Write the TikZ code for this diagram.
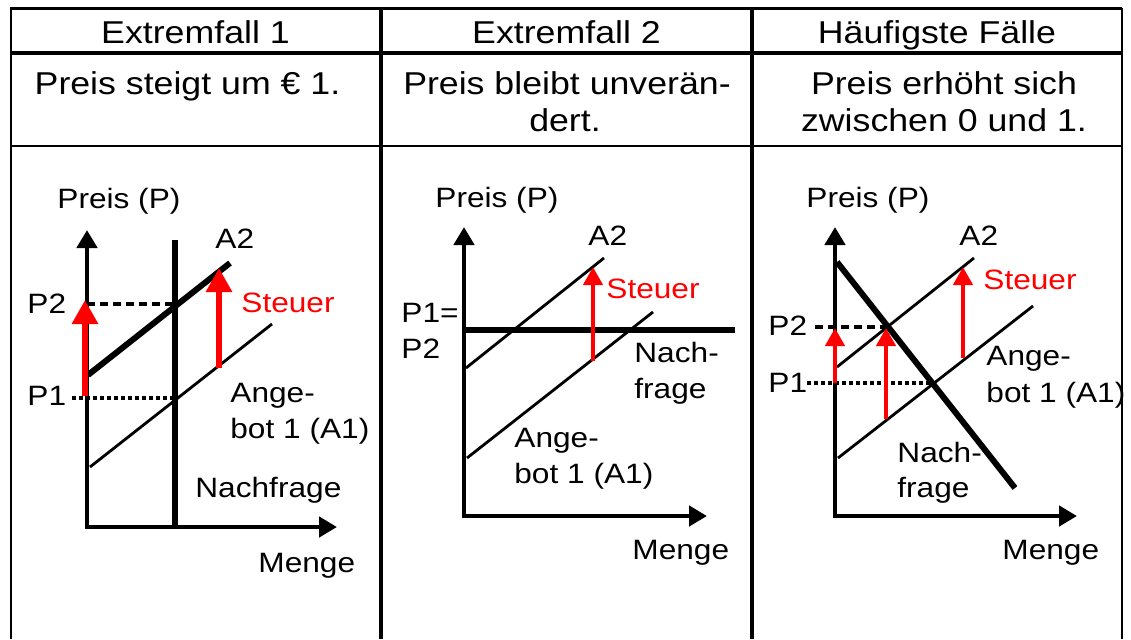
\documentclass[tikz,border=0pt]{standalone}
\usepackage{fontspec}
\setmainfont[FakeStretch=1.13]{Liberation Sans}
\usepackage{tikz}
\usetikzlibrary{arrows.meta}
\newcommand{\taxcolor}{red}
\newcommand{\axiswidth}{2.4pt}
\newcommand{\curvewidth}{1.4pt}
\newcommand{\demandwidth}{2.8pt}
\tikzset{
  grid/.style={line width=1pt},
  axis/.style={line width=\axiswidth, {Triangle[width=10pt,length=9pt]}-{Triangle[width=10pt,length=9pt]}},
  supply/.style={line width=\curvewidth},
  demand/.style={line width=\demandwidth},
  pricedash/.style={line width=2.4pt, dash pattern=on 4pt off 2.5pt},
  pricedot/.style={line width=1.7pt, dash pattern=on 1.8pt off 1.7pt},
  bigtax/.style={draw=\taxcolor, line width=3.2pt, -{Triangle[width=12.5pt,length=12pt]}},
  tax/.style={draw=\taxcolor, line width=2.2pt, -{Triangle[width=9.5pt,length=9pt]}},
  head/.style={font=\fontsize{15.8}{18}\selectfont, inner sep=0pt, anchor=base},
  lbl/.style={font=\fontsize{14}{18}\selectfont, inner sep=0pt, anchor=base west}
}

\begin{document}
\begin{tikzpicture}[x=0.5pt,y=-0.5pt]
\useasboundingbox (0,0) rectangle (1131,639);
%table
\draw[grid, line width=1.5pt] (10,8) -- (1122,8);
\draw[grid, line width=2.4pt] (10,53) -- (1122,53);
\draw[grid, line width=1.2pt] (10,146) -- (1122,146);
\draw[grid] (11,8) -- (11,639);
\draw[grid] (1122,8) -- (1122,639);
\draw[grid, line width=2pt] (381,8) -- (381,639);
\draw[grid, line width=2pt] (752,8) -- (752,639);
\node[head] (h1) at (195.5,43) {Extremfall 1};
\node[head] (h2) at (566.5,43) {Extremfall 2};
\node[head] (h3) at (937,43) {Häufigste Fälle};
\node[head] (t1) at (187.5,94) {Preis steigt um € 1.};
\node[head] (t2) at (567,94) {Preis bleibt unverän-};
\node[head] (t2b) at (565,131) {dert.};
\node[head] (t3) at (944,94) {Preis erhöht sich};
\node[head] (t3b) at (944,131) {zwischen 0 und 1.};

%Extremfall 1
\coordinate (o1) at (87,527);
\coordinate (y1) at (87,230);
\coordinate (x1) at (337,527);
\coordinate (n1a) at (175,240);
\coordinate (n1b) at (175,527);
\coordinate (a1s) at (90,467);
\coordinate (a1e) at (272,324);
\coordinate (a2s) at (88,375);
\coordinate (a2e) at (230,263);
\coordinate (p2l) at (87,304);
\coordinate (p2r) at (175,304);
\coordinate (p1l) at (72,398);
\coordinate (p1r) at (175,398);
\draw[axis] (y1) -- (o1) -- (x1);
\draw[demand] (n1a) -- (n1b);
\draw[supply] (a1s) -- (a1e);
\draw[supply, line width=3pt] (a2s) -- (a2e);
\draw[pricedash] (p2l) -- (p2r);
\draw[pricedot] (p1l) -- (p1r);
\coordinate (s1a) at (85,396);
\coordinate (s1b) at (85,300);
\coordinate (s2a) at (219,368);
\coordinate (s2b) at (219,268);
\draw[bigtax] (s1a) -- (s1b);
\draw[bigtax] (s2a) -- (s2b);
\node[lbl] (pr1) at (57,208) {Preis (P)};
\node[lbl] (an1) at (215,248) {A2};
\node[lbl] (pz1) at (27,313) {P2};
\node[lbl] (pe1) at (27,405) {P1};
\node[lbl, text=\taxcolor] (st1) at (241,312) {Steuer};
\node[lbl] (ag1) at (230,402) {Ange-};
\node[lbl] (ag1b) at (230,438) {bot 1 (A1)};
\node[lbl] (nf1) at (195,497) {Nachfrage};
\node[lbl] (me1) at (258,572) {Menge};

%Extremfall 2
\coordinate (o2) at (464,516);
\coordinate (y2) at (464,227);
\coordinate (x2) at (707,516);
\coordinate (n2a) at (464,330);
\coordinate (n2b) at (735,330);
\coordinate (b1s) at (467,458);
\coordinate (b1e) at (653,312);
\coordinate (b2s) at (466,368);
\coordinate (b2e) at (604,258);
\draw[axis] (y2) -- (o2) -- (x2);
\draw[demand] (n2a) -- (n2b);
\draw[supply] (b1s) -- (b1e);
\draw[supply] (b2s) -- (b2e);
\coordinate (s3a) at (593,361);
\coordinate (s3b) at (593,267);
\draw[tax] (s3a) -- (s3b);
\node[lbl] (pr2) at (435,207) {Preis (P)};
\node[lbl] (an2) at (588,245) {A2};
\node[lbl, text=\taxcolor] (st2) at (606,298) {Steuer};
\node[lbl] (pe2) at (401,322) {P1=};
\node[lbl] (pz2) at (401,358) {P2};
\node[lbl] (nf2) at (634,362) {Nach-};
\node[lbl] (nf2b) at (634,398) {frage};
\node[lbl] (ag2) at (514,447) {Ange-};
\node[lbl] (ag2b) at (514,483) {bot 1 (A1)};
\node[lbl] (me2) at (632,559) {Menge};

%Haeufigste Faelle
\coordinate (o3) at (835,516);
\coordinate (y3) at (835,227);
\coordinate (x3) at (1077,516);
\coordinate (n3a) at (837,262);
\coordinate (n3b) at (1015,488);
\coordinate (c1s) at (838,458);
\coordinate (c1e) at (1033,306);
\coordinate (c2s) at (837,367);
\coordinate (c2e) at (974,258);
\coordinate (q2l) at (815,327);
\coordinate (q2r) at (887,327);
\coordinate (q1l) at (807,383);
\coordinate (q1r) at (932,383);
\draw[axis] (y3) -- (o3) -- (x3);
\draw[supply] (c1s) -- (c1e);
\draw[supply] (c2s) -- (c2e);
\draw[demand, line width=3pt] (n3a) -- (n3b);
\draw[pricedash] (q2l) -- (q2r);
\draw[pricedot] (q1l) -- (q1r);
\coordinate (s4a) at (835,383);
\coordinate (s4b) at (835,328);
\coordinate (s5a) at (886,419);
\coordinate (s5b) at (886,328);
\coordinate (s6a) at (963,358);
\coordinate (s6b) at (963,267);
\draw[tax] (s4a) -- (s4b);
\draw[tax] (s5a) -- (s5b);
\draw[tax] (s6a) -- (s6b);
\node[lbl] (pr3) at (806,207) {Preis (P)};
\node[lbl] (an3) at (959,245) {A2};
\node[lbl, text=\taxcolor] (st3) at (983,289) {Steuer};
\node[lbl] (pz3) at (768,335) {P2};
\node[lbl] (pe3) at (768,392) {P1};
\node[lbl] (ag3) at (986,365) {Ange-};
\node[lbl] (ag3b) at (986,402) {bot 1 (A1)};
\node[lbl] (nf3) at (897,462) {Nach-};
\node[lbl] (nf3b) at (897,497) {frage};
\node[lbl] (me3) at (1002,559) {Menge};
\end{tikzpicture}
\end{document}
